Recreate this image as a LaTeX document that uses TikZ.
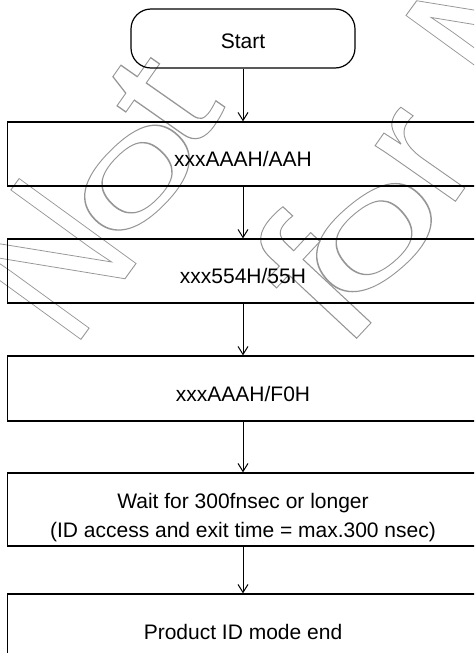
\documentclass[tikz,border=0pt]{standalone}
\usepackage{fontspec}
\setmainfont{Liberation Sans}
\usetikzlibrary{arrows.meta}
\definecolor{wmgray}{RGB}{150,150,150}
\newcommand\wmk[1]{{\color{wmgray}\special{pdf:literal direct 1 Tr 0.9 w}#1\special{pdf:literal direct 0 Tr}}}
\begin{document}
\begin{tikzpicture}[x=1pt,y=-1pt,
  wm/.style={inner sep=0pt,anchor=center},
  pbox/.style={draw,line width=1.3pt,minimum width=471pt,minimum height=#1,inner sep=0pt,
    text height=25pt,text depth=0pt,font=\fontsize{21}{29}\selectfont},
  startbox/.style={draw,line width=1.2pt,rounded corners=20pt,minimum width=224pt,minimum height=59pt,
    inner sep=0pt,text height=19pt,text depth=0pt,font=\fontsize{21}{29}\selectfont},
  flow/.style={-{Straight Barb[length=8pt,width=10pt]},line width=1pt}]
\clip (0,0) rectangle (474,653);
\fill[white] (0,0) rectangle (474,653);
% watermark
\node[wm,rotate=54,xscale=0.8] (wN1) at (50,259) {\fontsize{210}{210}\selectfont\wmk{N}};
\node[wm,rotate=45,xscale=1.8] (wo1) at (137,178) {\fontsize{139}{139}\selectfont\wmk{o}};
\node[wm,rotate=55,xscale=1.4] (wt1) at (163,102) {\fontsize{170}{170}\selectfont\wmk{t}};
\node[wm,rotate=47,xscale=1.2] (wf2) at (312,280) {\fontsize{200}{200}\selectfont\wmk{f}};
\node[wm,rotate=40,xscale=1.8] (wo2) at (374,238) {\fontsize{148}{148}\selectfont\wmk{o}};
\node[wm,rotate=55,xscale=1.0] (wr2) at (425,158) {\fontsize{185}{185}\selectfont\wmk{r}};
\node[wm,rotate=54,xscale=0.8] (wN2) at (492,20) {\fontsize{210}{210}\selectfont\wmk{N}};
% flowchart
\node[startbox] (start) at (243,38.5) {Start};
\node[pbox=64pt] (b1) at (243,154) {xxxAAAH/AAH};
\node[pbox=64pt] (b2) at (243,271) {xxx554H/55H};
\node[pbox=65pt] (b3) at (243,388.5) {xxxAAAH/F0H};
\node[pbox=73pt] (b4) at (243,509.5) {\begin{tabular}{@{}c@{}}Wait for 300fnsec or longer\\(ID access and exit time = max.300 nsec)\end{tabular}};
\node[pbox=66pt] (b5) at (243,627) {Product ID mode end};
\draw[flow] (start) -- (b1);
\draw[flow] (b1) -- (b2);
\draw[flow] (b2) -- (b3);
\draw[flow] (b3) -- (b4);
\draw[flow] (b4) -- (b5);
\end{tikzpicture}
\end{document}
